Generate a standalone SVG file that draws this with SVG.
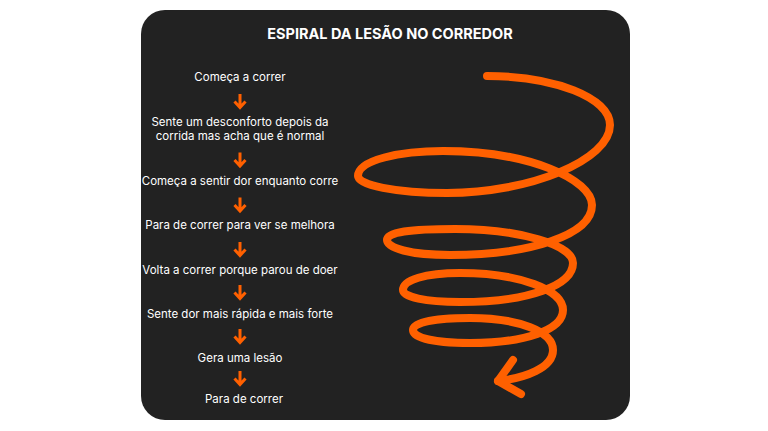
<svg xmlns="http://www.w3.org/2000/svg" width="768" height="431" viewBox="0 0 768 431">
<defs>
<style>
.t{font-family:Inter,"Open Sans","Liberation Sans",sans-serif;font-size:11.5px;fill:#ffffff;text-anchor:middle}
.h{font-family:Inter,"Open Sans","Liberation Sans",sans-serif;font-size:14.5px;font-weight:700;fill:#ffffff;text-anchor:middle}
.a{fill:none;stroke:#ff6000;stroke-width:3;stroke-linecap:butt;stroke-linejoin:miter}
.s{fill:none;stroke:#ff6000;stroke-width:8;stroke-linecap:round;stroke-linejoin:round}
</style>
<g id="arr"><path class="a" d="M0,-7 V6 M-5.5,0.5 L0,6.5 L5.5,0.5"/></g>
</defs>
<rect width="768" height="431" fill="#ffffff"/>
<rect id="card" x="141" y="10" width="489" height="410" rx="24" fill="#222222"/>
<text class="h" x="390" y="38.5">ESPIRAL DA LESÃO NO CORREDOR</text>
<g id="n1"><text class="t" x="240" y="80.5">Começa a correr</text></g>
<g id="n2"><text class="t" x="240" y="125.5">Sente um desconforto depois da</text><text class="t" x="240" y="140">corrida mas acha que é normal</text></g>
<g id="n3"><text class="t" x="240" y="184.5">Começa a sentir dor enquanto corre</text></g>
<g id="n4"><text class="t" x="240" y="229">Para de correr para ver se melhora</text></g>
<g id="n5"><text class="t" x="240" y="273.5">Volta a correr porque parou de doer</text></g>
<g id="n6"><text class="t" x="240" y="318">Sente dor mais rápida e mais forte</text></g>
<g id="n7"><text class="t" x="240" y="362">Gera uma lesão</text></g>
<g id="n8"><text class="t" x="244" y="403">Para de correr</text></g>
<g id="connectors">
<use href="#arr" x="240" y="101"/>
<use href="#arr" x="240" y="159.5"/>
<use href="#arr" x="240" y="204.5"/>
<use href="#arr" x="240" y="249"/>
<use href="#arr" x="240" y="292"/>
<use href="#arr" x="240" y="336"/>
<use href="#arr" x="240" y="378"/>
</g>
<g id="spiral">
<path class="s" d="M487,76 C555,76 610,98 610,125 C610,160 530,193 447,193 C395,193 358,185 358,176 C358,160 400,151 443,151 C530,151 592,180 592,205 C592,235 530,255 450,255 C410,255 387,248 387,240 C387,232 410,229 455,229 C520,229 573,245 573,263 C573,285 530,302 460,302 C425,302 403,297 403,290 C403,280 425,273 460,273 C520,273 563,290 563,310 C563,330 525,343 470,343 C435,343 413,338 413,330 C413,322 435,318 470,318 C520,318 553,332 553,350 C553,368 525,378 498,381"/>
<path class="s" d="M513,360 L498,381 L521,394"/>
</g>
</svg>
